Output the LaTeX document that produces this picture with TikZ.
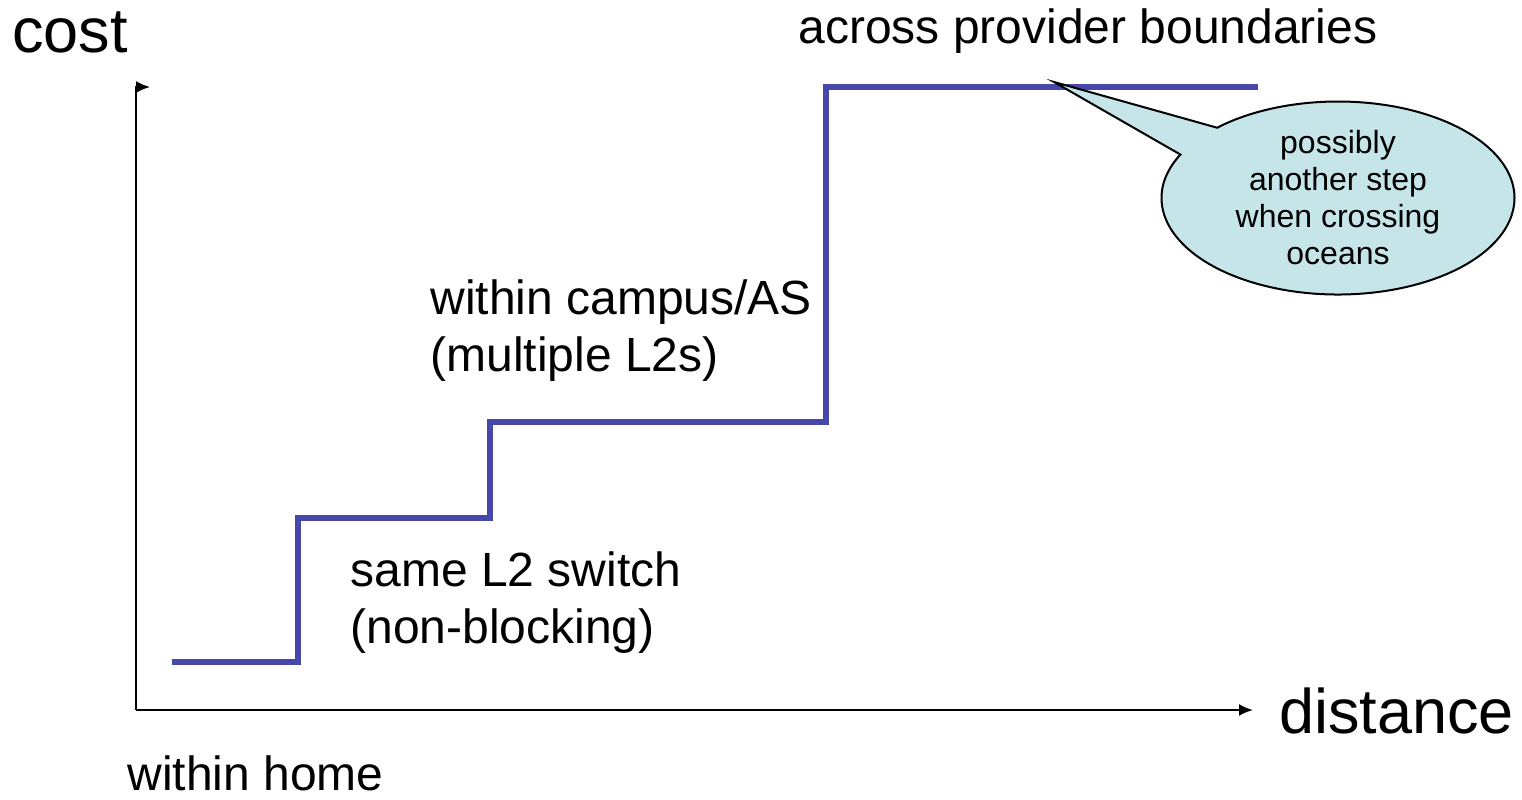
\documentclass[tikz,border=0pt]{standalone}
\usepackage{fontspec}
\setmainfont{Liberation Sans}
\usetikzlibrary{positioning,shapes.callouts,arrows.meta}

\definecolor{stepblue}{HTML}{4848AC}
\definecolor{bubble}{HTML}{C5E5E8}

\tikzset{
  axis/.style={line width=1pt, -{Latex[length=7pt,width=6pt]}},
  costline/.style={line width=2.6pt, stepblue},
  big/.style={font=\fontsize{31.5}{38}\selectfont, inner sep=0pt},
  label/.style={font=\fontsize{24}{28.5}\selectfont, align=left, inner sep=0pt},
}

\begin{document}
\begin{tikzpicture}[x=0.5pt, y=-0.5pt]
\useasboundingbox (0,0) rectangle (1522,799);

% Axes
\coordinate (origin) at (136,710);
\coordinate (ytop) at (136,87);
\coordinate (yend) at (150,87);
\coordinate (xend) at (1253,710);
\draw[axis] (origin) -- (ytop) -- (yend);
\draw[axis] (origin) -- (xend);

\node[big, anchor=base west] (cost) at (12,52) {cost};
\node[big, anchor=base west] (distance) at (1279,733) {distance};

% Steps
\coordinate (s0) at (172,662);
\coordinate (s1) at (298,662);
\coordinate (s2) at (298,518);
\coordinate (s3) at (490,518);
\coordinate (s4) at (490,422);
\coordinate (s5) at (826,422);
\coordinate (s6) at (826,87);
\coordinate (s7) at (1258,87);
\draw[costline] (s0) -- (s1) -- (s2) -- (s3) -- (s4) -- (s5) -- (s6) -- (s7);

% Labels (base = last line)
\node[label, anchor=base west] (home) at (127,790) {within home};
\node[label, anchor=base west] (switch) at (350,643) {same L2 switch\\(non-blocking)};
\node[label, anchor=base west] (campus) at (430,371) {within campus/AS\\(multiple L2s)};
\node[label, anchor=base west] (provider) at (798,43) {across provider boundaries};

% Callout
\coordinate (tip) at (1054,82);
\node[ellipse callout, draw, line width=1pt, fill=bubble,
      minimum width=176.5pt, minimum height=96.5pt, inner sep=0pt,
      callout absolute pointer=(tip), callout pointer arc=20,
      font=\fontsize{16}{18.5}\selectfont, align=center] (ocean) at (1338,198)
  {possibly\\another step\\when crossing\\oceans};

\end{tikzpicture}
\end{document}
